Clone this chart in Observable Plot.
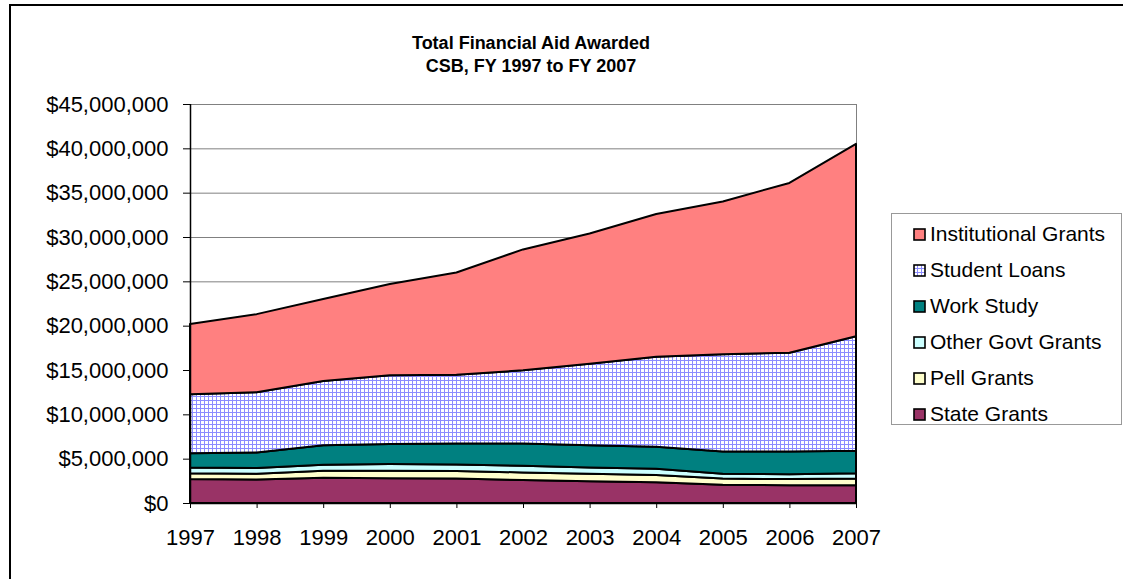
<!DOCTYPE html>
<html>
<head>
<meta charset="utf-8">
<script src="https://cdn.jsdelivr.net/npm/d3@7"></script>
<script src="https://cdn.jsdelivr.net/npm/@observablehq/plot@0.6"></script>
<style>
  body { margin: 0; background: #fff; font-family: "Liberation Sans", Arial, sans-serif; }
  #wrap { position: relative; width: 1123px; height: 579px; overflow: hidden; background: #fff; }
  #border { position: absolute; left: 9px; top: 4px; width: 1300px; height: 800px; border-left: 2px solid #000; border-top: 2px solid #000; }
  #title { position: absolute; left: 331px; width: 400px; top: 32px; text-align: center; font-weight: bold; font-size: 18px; line-height: 23px; color: #000; }
  #chart { position: absolute; left: 0; top: 0; }
  #legend { position: absolute; left: 891px; top: 213px; width: 231px; height: 212px; border: 1px solid #999; box-sizing: border-box; background: #fff; }
  .item { position: absolute; left: 21px; height: 24px; line-height: 24px; font-size: 21px; white-space: nowrap; }
  .item svg { position: absolute; left: 0; top: 6px; }
  .item span { position: absolute; left: 17px; top: 0; }
</style>
</head>
<body>
<svg width="0" height="0" style="position:absolute">
  <defs>
    <pattern id="grid" width="4" height="4" patternUnits="userSpaceOnUse">
      <rect width="4" height="4" fill="#ffffff"></rect>
      <rect width="4" height="1" fill="#8c8cff"></rect>
      <rect width="1" height="4" fill="#8c8cff"></rect>
    </pattern>
  </defs>
</svg>
<div id="wrap">
  <div id="border"></div>
  <div id="title">Total Financial Aid Awarded<br>CSB, FY 1997 to FY 2007</div>
  <div id="chart"></div>
  <div id="legend"></div>
</div>
<script>
const years = [1997, 1998, 1999, 2000, 2001, 2002, 2003, 2004, 2005, 2006, 2007];

const stateGrants         = [2700000, 2650000, 2850000, 2800000, 2750000, 2600000, 2450000, 2350000, 2050000, 2000000, 2000000];
const pellGrants          = [650000, 650000, 800000, 850000, 850000, 850000, 850000, 800000, 700000, 700000, 750000];
const otherGovtGrants     = [650000, 650000, 650000, 750000, 750000, 750000, 700000, 700000, 550000, 550000, 600000];
const workStudy           = [1600000, 1750000, 2200000, 2250000, 2350000, 2500000, 2500000, 2500000, 2500000, 2550000, 2550000];
const studentLoans        = [6660000, 6800000, 7260000, 7750000, 7770000, 8260000, 9200000, 10150000, 10970000, 11150000, 12900000];
const institutionalGrants = [7940000, 8800000, 9240000, 10300000, 11530000, 13640000, 14700000, 16100000, 17230000, 19150000, 21700000];

const seriesNames  = ["State Grants", "Pell Grants", "Other Govt Grants", "Work Study", "Student Loans", "Institutional Grants"];
const seriesValues = [stateGrants, pellGrants, otherGovtGrants, workStudy, studentLoans, institutionalGrants];
const seriesFills  = ["#993366", "#FFFFCC", "#CCFFFF", "#008080", "url(#grid)", "#FF8080"];

const yTicks = [0, 5000000, 10000000, 15000000, 20000000, 25000000, 30000000, 35000000, 40000000, 45000000];

const data = seriesNames.flatMap((s, i) => years.map((yr, j) => ({year: yr, series: s, value: seriesValues[i][j]})));

const chart = Plot.plot({
  width: 880,
  height: 579,
  marginLeft: 190,
  marginRight: 24,
  marginTop: 104,
  marginBottom: 76,
  style: {fontFamily: "'Liberation Sans', Arial, sans-serif", fontSize: "22px", color: "#000", background: "transparent", overflow: "visible"},
  x: {domain: [1997, 2007], ticks: years, tickFormat: "d", tickSize: 5, tickPadding: 21, label: null},
  y: {domain: [0, 45000000], ticks: yTicks, tickFormat: d3.format("$,"), tickSize: 7, tickPadding: 15, label: null},
  color: {domain: seriesNames, range: seriesFills},
  marks: [
    Plot.ruleY(yTicks.slice(1), {stroke: "#808080", strokeWidth: 1}),
    Plot.ruleX([2007], {stroke: "#808080", strokeWidth: 1}),
    Plot.areaY(data, {x: "year", y: "value", z: "series", fill: "series", order: seriesNames, stroke: "#000", strokeWidth: 2, strokeLinejoin: "round"}),
    Plot.ruleX([1997], {stroke: "#000", strokeWidth: 1.5}),
    Plot.ruleY([0], {stroke: "#000", strokeWidth: 1.5})
  ]
});
document.getElementById("chart").appendChild(chart);

// legend (top to bottom: reverse of stacking order)
const legend = document.getElementById("legend");
const legendOrder = seriesNames.map((s, i) => i).reverse();
legendOrder.forEach((i, k) => {
  const div = document.createElement("div");
  div.className = "item";
  div.style.top = (8 + k * 35.9) + "px";
  div.innerHTML = `<svg width="13" height="13"><rect x="1" y="1" width="11" height="11" fill="${seriesFills[i]}" stroke="#000" stroke-width="1.6"></rect></svg><span>${seriesNames[i]}</span>`;
  legend.appendChild(div);
});
</script>
</body>
</html>
